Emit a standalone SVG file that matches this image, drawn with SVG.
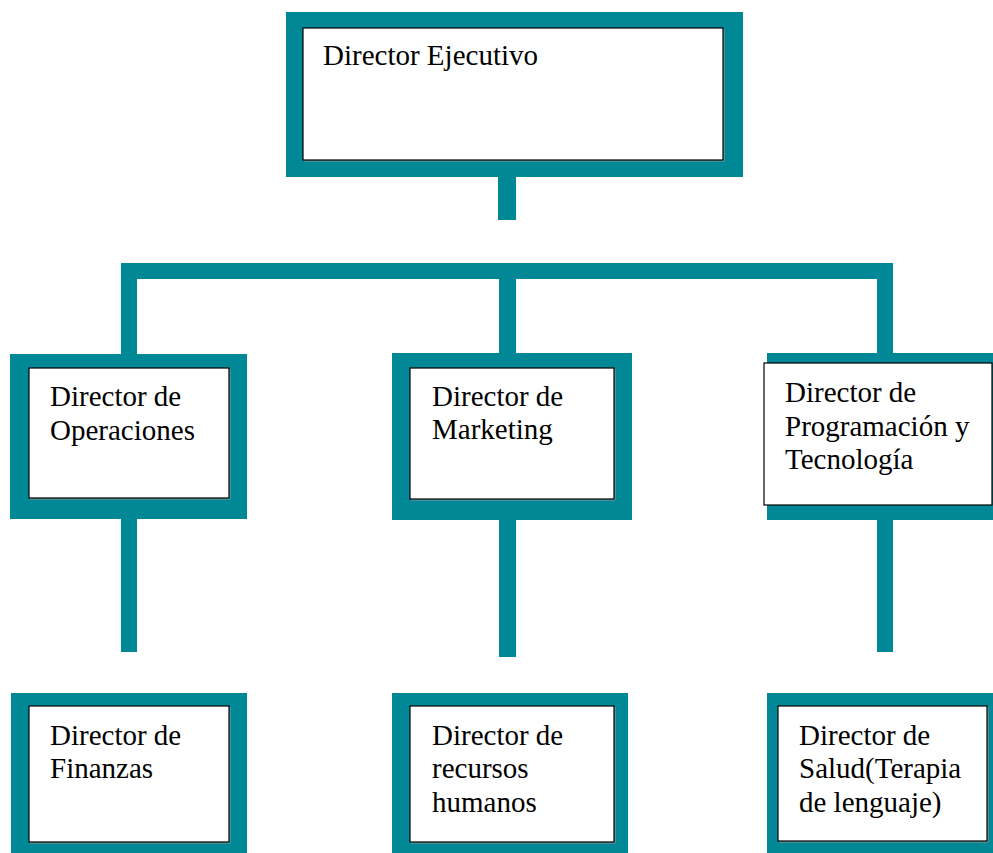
<svg xmlns="http://www.w3.org/2000/svg" width="993" height="853" viewBox="0 0 993 853">
<style>
.frame{fill:#008896}
.card{fill:#ffffff;stroke:#000000;stroke-width:1.2}
.shadow{fill:none;stroke:#9a9a9a;stroke-width:1}
.lbl{font-family:'Liberation Serif','Times New Roman',Tinos,Times,'DejaVu Serif',serif;font-size:29px;fill:#000000}
.bar{fill:#008896}
</style>
<rect width="993" height="853" fill="#ffffff"/>
<g id="connectors">
<rect class="bar" x="498" y="176" width="18" height="44"/>
<rect class="bar" x="121" y="263" width="772" height="16"/>
<rect class="bar" x="121" y="263" width="16" height="92"/>
<rect class="bar" x="499" y="263" width="17" height="91"/>
<rect class="bar" x="877" y="263" width="16" height="91"/>
<rect class="bar" x="121" y="518" width="16" height="134"/>
<rect class="bar" x="499" y="519" width="17" height="138"/>
<rect class="bar" x="877" y="519" width="16" height="133"/>
</g>
<g id="node-ejecutivo">
<rect class="frame" x="286" y="12" width="457" height="165"/>
<path class="shadow" d="M304 161 H724 V29"/>
<rect class="card" x="303" y="28" width="420" height="132"/>
<text class="lbl" font-family="Liberation Serif, serif" x="323" y="65">Director Ejecutivo</text>
</g>
<g id="node-operaciones">
<rect class="frame" x="10" y="354" width="237" height="165"/>
<path class="shadow" d="M30 499 H230 V369"/>
<rect class="card" x="29" y="368" width="200" height="130"/>
<text class="lbl" x="50" y="406">Director de</text>
<text class="lbl" x="50" y="440">Operaciones</text>
</g>
<g id="node-marketing">
<rect class="frame" x="392" y="353" width="240" height="167"/>
<path class="shadow" d="M411 500 H615 V369"/>
<rect class="card" x="410" y="368" width="204" height="131"/>
<text class="lbl" x="432" y="406">Director de</text>
<text class="lbl" x="432" y="439">Marketing</text>
</g>
<g id="node-programacion">
<rect class="frame" x="767" y="353" width="226" height="167"/>
<rect class="card" x="764" y="363" width="228" height="142"/>
<text class="lbl" x="785" y="402">Director de</text>
<text class="lbl" x="785" y="436">Programación y</text>
<text class="lbl" x="785" y="469">Tecnología</text>
</g>
<g id="node-finanzas">
<rect class="frame" x="11" y="693" width="236" height="160"/>
<path class="shadow" d="M30 843 H230 V707"/>
<rect class="card" x="29" y="706" width="200" height="136"/>
<text class="lbl" x="50" y="745">Director de</text>
<text class="lbl" x="50" y="778">Finanzas</text>
</g>
<g id="node-recursos">
<rect class="frame" x="392" y="693" width="236" height="160"/>
<path class="shadow" d="M411 843 H615 V707"/>
<rect class="card" x="410" y="706" width="204" height="136"/>
<text class="lbl" x="432" y="745">Director de</text>
<text class="lbl" x="432" y="778">recursos</text>
<text class="lbl" x="432" y="812">humanos</text>
</g>
<g id="node-salud">
<rect class="frame" x="767" y="693" width="226" height="160"/>
<path class="shadow" d="M779 842 H988 V707"/>
<rect class="card" x="778" y="706" width="209" height="135"/>
<text class="lbl" x="799" y="745">Director de</text>
<text class="lbl" x="799" y="778">Salud(Terapia</text>
<text class="lbl" x="799" y="812">de lenguaje)</text>
</g>
</svg>
